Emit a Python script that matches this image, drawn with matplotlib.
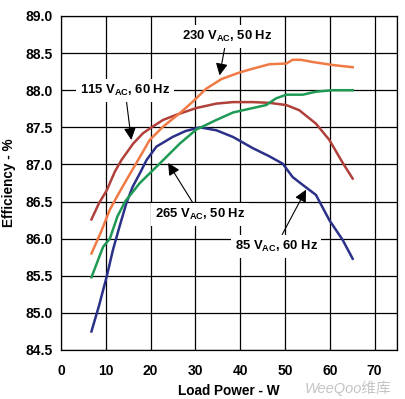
import matplotlib
matplotlib.use("Agg")
import matplotlib.pyplot as plt

plt.rcParams['font.family'] = ['Liberation Sans', 'DejaVu Sans']
plt.rcParams['mathtext.fontset'] = 'custom'
plt.rcParams['mathtext.rm'] = 'Liberation Sans'
plt.rcParams['mathtext.bf'] = 'Liberation Sans:bold'

# 85 VAC, 60 Hz (blue)
x85 = [6.8, 8.5, 10.2, 11.6, 13.0, 14.6, 16.0, 17.6, 19.1, 21.3, 24.9, 27.8, 31.0, 34.7, 38.4, 42.8, 46.5, 49.5, 51.7, 54.7, 56.9, 59.9, 62.9, 65.1]
y85 = [84.75, 85.1, 85.49, 85.85, 86.15, 86.48, 86.7, 86.88, 87.06, 87.24, 87.37, 87.45, 87.5, 87.46, 87.37, 87.22, 87.11, 87.01, 86.83, 86.69, 86.59, 86.25, 85.98, 85.73]
# 115 VAC, 60 Hz (red)
x115 = [6.8, 8.5, 10.2, 12.0, 13.5, 16.1, 18.3, 20.2, 22.8, 25.8, 30.2, 34.7, 38.4, 42.8, 46.5, 50.3, 53.2, 56.9, 59.9, 62.9, 65.1]
y115 = [86.26, 86.48, 86.65, 86.9, 87.06, 87.28, 87.42, 87.5, 87.6, 87.67, 87.76, 87.82, 87.84, 87.84, 87.83, 87.8, 87.73, 87.55, 87.33, 87.02, 86.81]
# 230 VAC, 50 Hz (orange)
x230 = [6.8, 9.0, 10.9, 12.8, 14.6, 17.6, 19.8, 22.8, 26.5, 29.5, 32.4, 35.8, 39.9, 42.8, 46.5, 50.3, 51.7, 53.5, 56.2, 60.6, 65.1]
y230 = [85.8, 86.1, 86.39, 86.6, 86.79, 87.1, 87.33, 87.51, 87.69, 87.85, 88.02, 88.15, 88.24, 88.29, 88.35, 88.36, 88.41, 88.41, 88.38, 88.34, 88.31]
# 265 VAC, 50 Hz (green)
x265 = [6.8, 9.4, 10.9, 12.6, 14.3, 17.6, 19.8, 22.0, 26.5, 30.2, 34.7, 38.4, 42.8, 45.8, 48.0, 50.3, 54.0, 56.9, 60.6, 65.1]
y265 = [85.48, 85.89, 86.0, 86.3, 86.5, 86.75, 86.88, 87.01, 87.28, 87.47, 87.6, 87.7, 87.76, 87.8, 87.89, 87.94, 87.94, 87.98, 88.0, 88.0]

xticks = [0, 10, 20, 30, 40, 50, 60, 70]
yticks = [84.5, 85.0, 85.5, 86.0, 86.5, 87.0, 87.5, 88.0, 88.5, 89.0]

fig = plt.figure(figsize=(4.05, 3.99), dpi=100)
ax = fig.add_axes([61/405, 1 - 350/399, (397-61)/405, (350-16)/399])

ax.plot(x85, y85, color='#2B3088', lw=1.8, zorder=3)
ax.plot(x115, y115, color='#B0403A', lw=1.8, zorder=3)
ax.plot(x230, y230, color='#F07A45', lw=1.8, zorder=3)
ax.plot(x265, y265, color='#1F9A55', lw=1.8, zorder=3)

ax.set_xlim(0, 75)
ax.set_ylim(84.5, 89.0)
ax.set_xticks(xticks)
ax.set_yticks(yticks)
ax.set_xticklabels([str(t) for t in xticks])
ax.set_yticklabels([f"{t:.1f}" for t in yticks])
ax.set_xticks([75], minor=True)
ax.grid(True, which='major', color='black', lw=0.9)
ax.grid(True, which='minor', axis='x', color='black', lw=0.9)
ax.tick_params(which='both', length=0, labelsize=10)
ax.tick_params(axis='x', pad=10)
ax.tick_params(axis='y', pad=6)
for lab in ax.get_xticklabels() + ax.get_yticklabels():
    lab.set_fontweight('bold')
for sp in ax.spines.values():
    sp.set_color('black')
    sp.set_linewidth(0.9)

ax.set_xlabel('Load Power - W', fontsize=9.8, fontweight='bold', labelpad=4.5)
ax.set_ylabel('Efficiency - %', fontsize=9.8, fontweight='bold', labelpad=7)

bbox = dict(boxstyle='square,pad=0.3', fc='white', ec='none')
ap = dict(arrowstyle='-|>', color='black', lw=0.8, mutation_scale=18, shrinkA=0, shrinkB=0)
fs = 9.4

ax.annotate(r'230 V$_{\mathbf{AC}}$, 50 Hz', xy=(35.4, 88.2), xytext=(37.0, 88.72),
            ha='center', va='center', fontsize=fs, fontweight='bold', bbox=bbox,
            arrowprops=ap, zorder=5)
ax.annotate(r'115 V$_{\mathbf{AC}}$, 60 Hz', xy=(15.7, 87.33), xytext=(14.3, 88.0),
            ha='center', va='center', fontsize=fs, fontweight='bold', bbox=bbox,
            arrowprops=ap, zorder=5)
ax.annotate(r'265 V$_{\mathbf{AC}}$, 50 Hz', xy=(23.9, 87.02), xytext=(31.0, 86.33),
            ha='center', va='center', fontsize=fs, fontweight='bold', bbox=bbox,
            arrowprops=ap, zorder=5)
ax.annotate(r'85 V$_{\mathbf{AC}}$, 60 Hz', xy=(54.7, 86.66), xytext=(48.0, 85.9),
            ha='center', va='center', fontsize=fs, fontweight='bold', bbox=bbox,
            arrowprops=ap, zorder=5)

fig.text(0.86, 0.027, 'WeeQoo维库', fontsize=10.5, color='#c4c4c4', style='italic',
         family=['Liberation Sans', 'Noto Sans CJK SC'], ha='center', va='center', zorder=0)

fig.savefig('out.png', dpi=100)
